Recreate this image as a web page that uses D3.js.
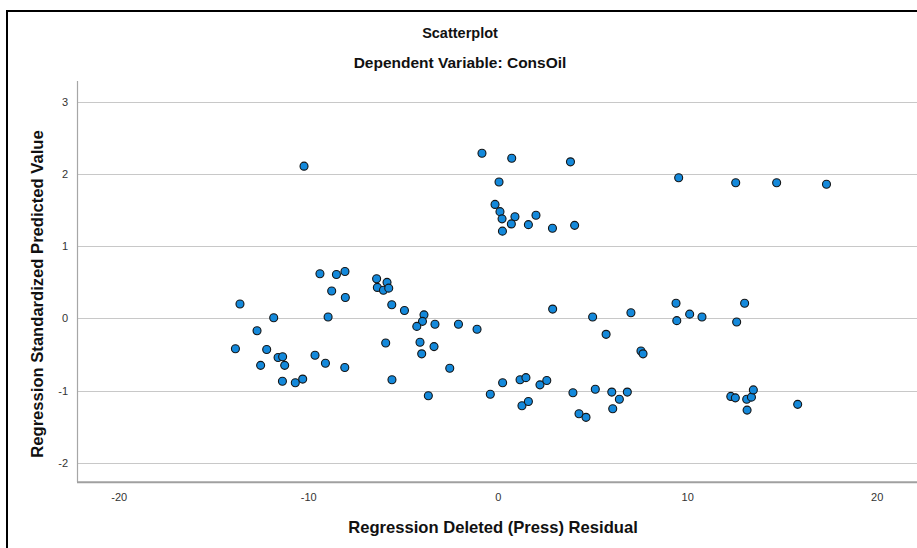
<!DOCTYPE html>
<html>
<head>
<meta charset="utf-8">
<script src="https://cdn.jsdelivr.net/npm/d3@7"></script>
<style>
  html, body { margin: 0; padding: 0; background: #fff; }
  svg { display: block; }
  text { font-family: "Liberation Sans", Arial, sans-serif; }
</style>
</head>
<body>
<svg id="chart" width="917" height="548"></svg>
<script>
// Residuals (x) and standardized predicted values (y), one pair per case
const residual = [
  -10.22, -13.60, -13.84, -12.70, -11.82, -12.19, -12.51, -11.59, -11.35, -11.24,
  -11.36, -10.68, -10.29, -9.64, -9.38, -8.51, -8.06, -8.76, -6.39, -5.84,
  -6.35, -6.03, -5.75, -8.04, -5.59, -4.92, -3.89, -3.97, -4.27, -3.31,
  -2.07, -1.09, -8.95, -5.91, -4.10, -4.01, -3.36, -9.09, -8.07, -5.58,
  -2.53, -3.66, -0.39, 0.26, 1.18, 1.49, 1.28, 1.62, 2.23, 2.59,
  3.97, 4.29, 4.66, 5.15, -0.83, 0.74, 3.84, 0.07, -0.14, 0.12,
  0.23, 0.91, 0.72, 1.62, 2.02, 2.89, 4.06, 0.25, 2.90, 5.01,
  9.55, 12.56, 14.72, 17.35, 5.72, 7.03, 7.56, 7.67, 6.02, 6.84,
  6.42, 6.07, 9.41, 9.45, 10.13, 10.78, 13.03, 12.61, 12.30, 12.54,
  13.14, 13.39, 13.49, 13.16, 15.83
];
const predicted = [
  2.11, 0.20, -0.42, -0.17, 0.01, -0.43, -0.65, -0.54, -0.53, -0.65,
  -0.87, -0.89, -0.84, -0.51, 0.62, 0.61, 0.65, 0.38, 0.55, 0.50,
  0.43, 0.39, 0.42, 0.29, 0.19, 0.11, 0.05, -0.04, -0.11, -0.08,
  -0.08, -0.15, 0.02, -0.34, -0.33, -0.49, -0.39, -0.62, -0.68, -0.85,
  -0.69, -1.07, -1.05, -0.89, -0.85, -0.82, -1.21, -1.15, -0.92, -0.86,
  -1.03, -1.32, -1.37, -0.98, 2.29, 2.22, 2.17, 1.89, 1.58, 1.48,
  1.38, 1.41, 1.31, 1.30, 1.43, 1.25, 1.29, 1.21, 0.13, 0.02,
  1.95, 1.88, 1.88, 1.86, -0.22, 0.08, -0.45, -0.49, -1.02, -1.02,
  -1.12, -1.25, 0.21, -0.03, 0.06, 0.02, 0.21, -0.05, -1.08, -1.10,
  -1.12, -1.09, -0.99, -1.27, -1.19
];
const xTicks = [-20, -10, 0, 10, 20];
const yTicks = [-2, -1, 0, 1, 2, 3];

const titleText = "Scatterplot";
const subtitleText = "Dependent Variable: ConsOil";
const xTitle = "Regression Deleted (Press) Residual";
const yTitle = "Regression Standardized Predicted Value";

const svg = d3.select("#chart");

// Outer frame of the chart
svg.append("rect")
  .attr("x", 7).attr("y", 11)
  .attr("width", 940).attr("height", 570)
  .attr("fill", "#fff")
  .attr("stroke", "#000").attr("stroke-width", 2);

const plot = { left: 77, right: 918.4, top: 81, bottom: 482.3 };

const x = d3.scaleLinear().domain([-22.2, 22.2]).range([plot.left, plot.right]);
const y = d3.scaleLinear().domain([-2.27, 3.29]).range([plot.bottom, plot.top]);

// Plain integer labels with an ASCII hyphen for negatives
const intLabel = d => String(d);

// Horizontal gridlines
svg.append("g")
  .selectAll("line")
  .data(yTicks)
  .join("line")
  .attr("x1", plot.left).attr("x2", plot.right)
  .attr("y1", d => Math.round(y(d)) + 0.5).attr("y2", d => Math.round(y(d)) + 0.5)
  .attr("stroke", "#c8c8c8").attr("stroke-width", 1.2);

// Y axis: labels only, plus the axis line
const yAxis = d3.axisLeft(y).tickValues(yTicks).tickFormat(intLabel).tickSize(0).tickPadding(9);
const gy = svg.append("g").attr("transform", `translate(${plot.left},0)`).call(yAxis);
gy.select(".domain").remove();
gy.selectAll("text").attr("font-size", 11).attr("fill", "#333");

const xAxis = d3.axisBottom(x).tickValues(xTicks).tickFormat(intLabel).tickSize(0).tickPadding(11);
const gx = svg.append("g").attr("transform", `translate(0,${plot.bottom})`).call(xAxis);
gx.select(".domain").remove();
gx.selectAll("text").attr("font-size", 11).attr("fill", "#333");

svg.append("line")
  .attr("x1", plot.left + 0.5).attr("x2", plot.left + 0.5)
  .attr("y1", plot.top).attr("y2", plot.bottom)
  .attr("stroke", "#a6a6a6").attr("stroke-width", 1.2);
svg.append("line")
  .attr("x1", plot.left).attr("x2", plot.right)
  .attr("y1", plot.bottom).attr("y2", plot.bottom)
  .attr("stroke", "#a0a0a0").attr("stroke-width", 2);

// Points
const pts = residual.map((r, i) => ({ r, p: predicted[i] }));
svg.append("g")
  .selectAll("circle")
  .data(pts)
  .join("circle")
  .attr("cx", d => x(d.r))
  .attr("cy", d => y(d.p))
  .attr("r", 4)
  .attr("fill", "#1489db")
  .attr("stroke", "#151515")
  .attr("stroke-width", 1.1);

// Titles
svg.append("text")
  .attr("x", 460).attr("y", 38)
  .attr("text-anchor", "middle")
  .attr("font-size", 14.5).attr("font-weight", "bold").attr("fill", "#111")
  .text(titleText);
svg.append("text")
  .attr("x", 460).attr("y", 68)
  .attr("text-anchor", "middle")
  .attr("font-size", 15.5).attr("font-weight", "bold").attr("fill", "#111")
  .text(subtitleText);

svg.append("text")
  .attr("x", 493).attr("y", 533)
  .attr("text-anchor", "middle")
  .attr("font-size", 16.6).attr("font-weight", "bold").attr("fill", "#111")
  .text(xTitle);

svg.append("text")
  .attr("transform", "translate(43,294) rotate(-90)")
  .attr("text-anchor", "middle")
  .attr("font-size", 16.6).attr("font-weight", "bold").attr("fill", "#111")
  .text(yTitle);
</script>
</body>
</html>
